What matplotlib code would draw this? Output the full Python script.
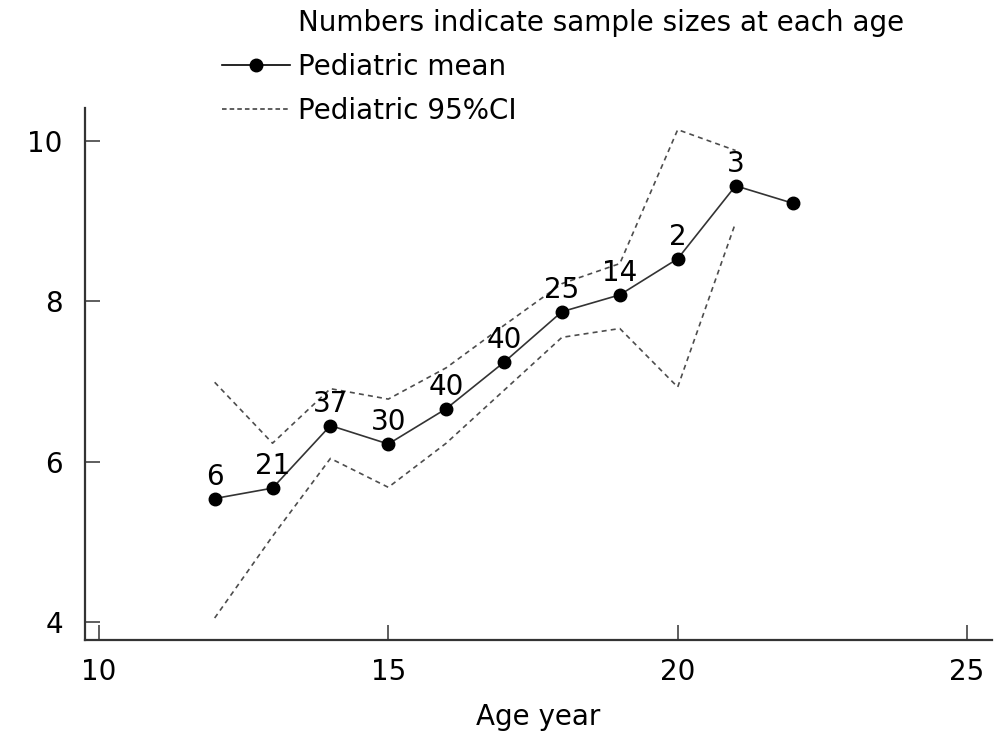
import matplotlib
matplotlib.use("Agg")
import matplotlib.pyplot as plt
from matplotlib.lines import Line2D

ages = [12, 13, 14, 15, 16, 17, 18, 19, 20, 21, 22]
mean_vals = [5.54, 5.67, 6.45, 6.22, 6.66, 7.24, 7.87, 8.08, 8.53, 9.44, 9.22]
sample_sizes = ["6", "21", "37", "30", "40", "40", "25", "14", "2", "3", ""]

ci_ages = [12, 13, 14, 15, 16, 17, 18, 19, 20, 21]
ci_upper = [6.99, 6.23, 6.91, 6.78, 7.17, 7.70, 8.22, 8.47, 10.14, 9.88]
ci_lower = [4.05, 5.07, 6.04, 5.68, 6.23, 6.89, 7.55, 7.66, 6.93, 8.98]

x_ticks = [10, 15, 20, 25]
y_ticks = [4, 6, 8, 10]


def main():
    plt.rcParams['font.family'] = ['DejaVu Sans']
    fig = plt.figure(figsize=(10.03, 7.32), dpi=100)
    ax = fig.add_axes([85 / 1003, 92 / 732, 907 / 1003, 532 / 732])

    ax.plot(ci_ages, ci_upper, color='#4d4d4d', lw=1.2, dashes=(3, 2.5))
    ax.plot(ci_ages, ci_lower, color='#4d4d4d', lw=1.2, dashes=(3, 2.5))
    ax.plot(ages, mean_vals, color='#333333', lw=1.2, marker='o',
            markersize=9, markerfacecolor='black', markeredgecolor='black')

    for x, y, n in zip(ages, mean_vals, sample_sizes):
        if n:
            ax.annotate(n, (x, y), xytext=(0, 10), textcoords='offset points',
                        ha='center', va='baseline', fontsize=20, color='black')

    ax.set_xlim(9.76, 25.43)
    ax.set_ylim(3.776, 10.41)
    ax.set_xticks(x_ticks)
    ax.set_yticks(y_ticks)
    for side in ('top', 'right'):
        ax.spines[side].set_visible(False)
    for side in ('left', 'bottom'):
        ax.spines[side].set_linewidth(1.6)
        ax.spines[side].set_color('#333333')
    ax.tick_params(axis='both', direction='in', length=10.5, width=1.1,
                   color='#333333', labelsize=20)
    ax.tick_params(axis='y', pad=16)
    ax.tick_params(axis='x', pad=13)
    ax.set_xlabel('Age year', fontsize=20, labelpad=12)

    handles = [
        Line2D([], [], linestyle='none'),
        Line2D([], [], color='black', lw=1.2, marker='o', markersize=9),
        Line2D([], [], color='#333333', lw=1.1, dashes=(3, 2)),
    ]
    labels = ['Numbers indicate sample sizes at each age',
              'Pediatric mean', 'Pediatric 95%CI']
    fig.legend(handles, labels, loc='upper left',
               bbox_to_anchor=(222 / 1003, 1 - 9 / 732), frameon=False,
               fontsize=20, handlelength=2.45, handletextpad=0.29,
               labelspacing=0.58, borderpad=0, borderaxespad=0)

    fig.savefig('out.png', dpi=100)


if __name__ == "__main__":
    main()
